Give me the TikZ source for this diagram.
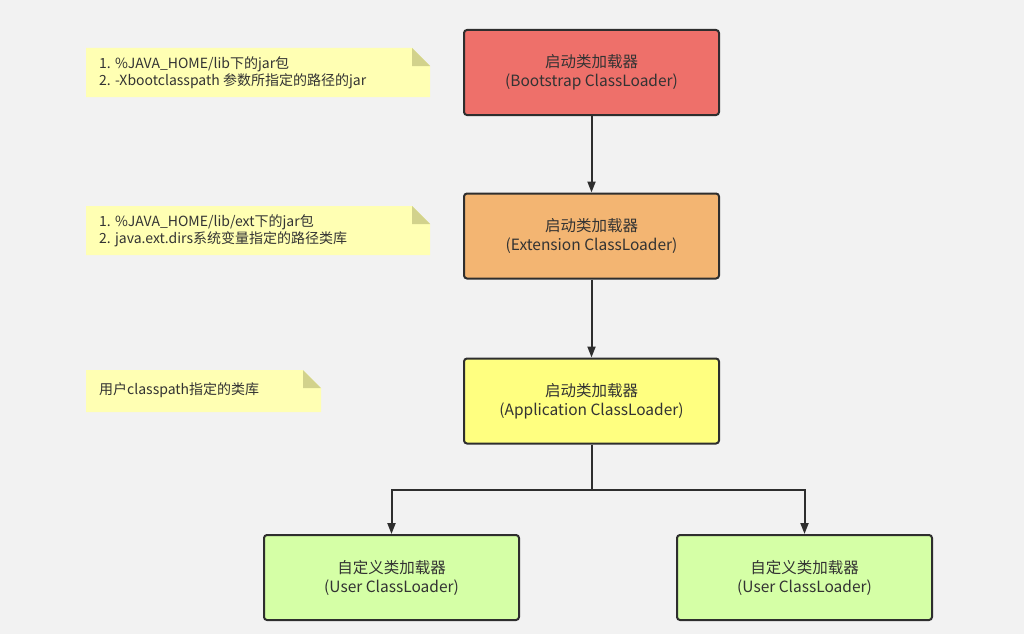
\documentclass[tikz,border=0pt]{standalone}
\usepackage{fontspec}
\setmainfont{Noto Sans CJK SC}
\usetikzlibrary{arrows.meta}
\definecolor{bg}{HTML}{F2F2F2}
\definecolor{bootc}{HTML}{EE706A}
\definecolor{extc}{HTML}{F3B572}
\definecolor{appc}{HTML}{FFFF80}
\definecolor{userc}{HTML}{D5FFA6}
\definecolor{notec}{HTML}{FFFFB3}
\definecolor{foldc}{HTML}{D2D28C}
\definecolor{linec}{HTML}{2E2E2E}
\definecolor{txtc}{HTML}{333333}
\tikzset{
  loader/.style={draw=linec, line width=2pt, rounded corners=3pt, minimum width=255pt, minimum height=85pt, align=center, font=\fontsize{15.5}{19}\selectfont, text=txtc},
  conn/.style={draw=linec, line width=2pt, -{Triangle[length=11pt,width=8pt]}},
  notetext/.style={anchor=west, align=left, font=\fontsize{14}{17}\selectfont, text=txtc, inner sep=0pt},
}
\begin{document}
\begin{tikzpicture}[x=1pt,y=-1pt]
\fill[bg] (0,0) rectangle (1024,634);
\useasboundingbox (0,0) rectangle (1024,634);
% notes
\newcommand{\notebox}[4]{%
  \fill[notec] (#1,#2) -- (#3-18,#2) -- (#3,#2+18) -- (#3,#4) -- (#1,#4) -- cycle;
  \fill[foldc] (#3-18,#2) -- (#3-18,#2+18) -- (#3,#2+18) -- cycle;
}
\notebox{86}{48}{430}{97}
\notebox{86}{206}{430}{255}
\notebox{86}{370}{321}{412}
\node[notetext] (n1) at (99,72.5) {1. \%JAVA\_HOME/lib下的jar包\\2. -Xbootclasspath 参数所指定的路径的jar};
\node[notetext] (n2) at (99,230.5) {1. \%JAVA\_HOME/lib/ext下的jar包\\2. java.ext.dirs系统变量指定的路径类库};
\node[notetext] (n3) at (99,390) {用户classpath指定的类库};
% loaders
\node[loader, fill=bootc] (boot) at (591.5,72.5) {启动类加载器\\(Bootstrap ClassLoader)};
\node[loader, fill=extc] (ext) at (591.5,236) {启动类加载器\\(Extension ClassLoader)};
\node[loader, fill=appc] (app) at (591.5,401) {启动类加载器\\(Application ClassLoader)};
\node[loader, fill=userc] (u1) at (391.5,577.5) {自定义类加载器\\(User ClassLoader)};
\node[loader, fill=userc] (u2) at (804.5,577.5) {自定义类加载器\\(User ClassLoader)};
% connectors
\draw[conn] (boot) -- (ext);
\draw[conn] (ext) -- (app);
\coordinate (br) at (591.5,490);
\draw[conn] (app.south) -- (br) -| (u1.north);
\draw[conn] (br) -| (u2.north);
\end{tikzpicture}
\end{document}
